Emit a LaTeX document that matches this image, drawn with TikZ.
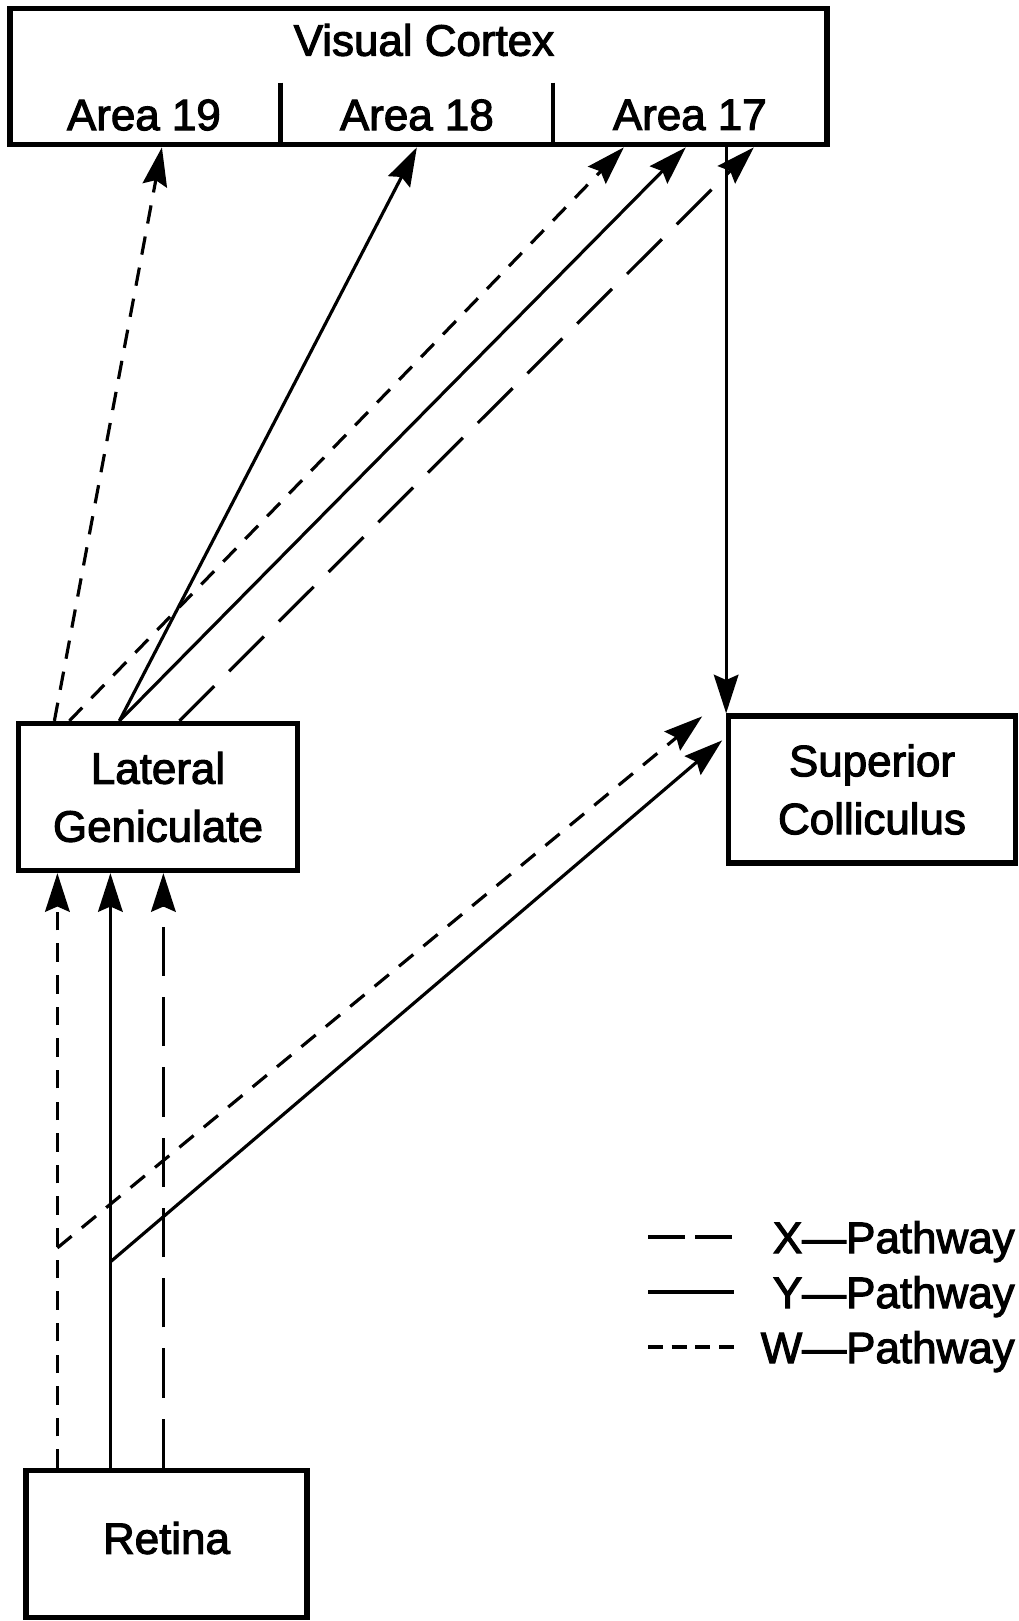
\documentclass[tikz,border=0pt]{standalone}
\usepackage{fontspec}
\setmainfont{Liberation Sans}[FakeBold=2.5]
\usetikzlibrary{positioning,arrows.meta,calc}

\begin{document}
\begin{tikzpicture}[
    x=0.02cm, y=-0.02cm,
    block/.style={
        rectangle, draw,
        minimum width=5.6cm, minimum height=2.94cm,
        align=center,
        text centered,
        line width=3pt, font=\fontsize{25}{33}\selectfont
    },
    areacell/.style={
        rectangle, inner sep=0pt,
        minimum width=5.446cm, minimum height=1.28cm,
        font=\fontsize{25}{33}\selectfont
    },
    arrow/.style={-{Stealth[length=22pt, width=14pt, inset=3pt]}, line width=1.8pt},
    xpath/.style={dash pattern=on 28pt off 12pt},
    wpath/.style={dash pattern=on 10.5pt off 7.5pt},
    legtext/.style={anchor=base east, inner sep=0pt, font=\fontsize{25}{33}\selectfont}
]
  \useasboundingbox (0,0) rectangle (1018,1621);

  % Nodes
  \node[block, minimum width=16.34cm, minimum height=2.73cm] (cortex) at (418.5,76.5) {};
  \node[font=\fontsize{25}{33}\selectfont] (title) at (424,40) {Visual Cortex};
  \node[areacell, anchor=south west] (a19) at (cortex.south west) {Area 19};
  \node[areacell, right=0pt of a19] (a18) {Area 18};
  \node[areacell, right=0pt of a18] (a17) {Area 17};
  \draw[line width=2.4pt] (a19.north east) -- (a19.south east);
  \draw[line width=2.4pt] (a18.north east) -- (a18.south east);

  \node[block, minimum width=5.58cm] (lgn) at (158,797) {Lateral\\Geniculate};
  \node[block, minimum width=5.73cm] (sc) at (872,789.5) {Superior\\Colliculus};
  \node[block, minimum width=5.62cm, text depth=7pt] (retina) at (166.5,1544) {Retina};

  % LGN to cortex
  \draw[arrow, wpath] ($(lgn.north west)+(38.5,0)$) -- ($(a19.south)+(18,0)$);
  \draw[arrow, wpath] ($(lgn.north west)+(53.5,0)$) -- ($(a17.south)+(-66,0)$);
  \draw[arrow] ($(lgn.north west)+(103.5,0)$) -- (a18.south);
  \draw[arrow] ($(lgn.north west)+(103.5,0)$) -- ($(a17.south)+(-4,0)$);
  \draw[arrow, xpath] ($(lgn.north west)+(163.5,0)$) -- ($(a17.south)+(64,0)$);

  % Area 17 to superior colliculus
  \draw[arrow] (sc.north west |- a17.south) -- (sc.north west);

  % Retina to LGN
  \coordinate (wret) at ($(retina.north west)+(34,0)$);
  \coordinate (yret) at ($(retina.north west)+(87,0)$);
  \coordinate (xret) at ($(retina.north west)+(140,0)$);
  \draw[arrow, wpath] (wret) -- (wret |- lgn.south);
  \draw[arrow] (yret) -- (yret |- lgn.south);
  \draw[arrow, xpath] (xret) -- (xret |- lgn.south);

  % Retina to superior colliculus
  \coordinate (wfork) at ($(wret)+(0,-220)$);
  \coordinate (yfork) at ($(yret)+(0,-206)$);
  \draw[arrow, wpath] (wfork) -- ($(sc.north west)+(-24,3)$);
  \draw[arrow] (yfork) -- ($(sc.north west)+(-4,27)$);

  % Legend
  \node[legtext] (xleg) at (1015,1253) {X—Pathway};
  \node[legtext] (yleg) at (1015,1308) {Y—Pathway};
  \node[legtext] (wleg) at (1015,1363) {W—Pathway};
  \draw[line width=1.8pt, dash pattern=on 21pt off 6pt] (648,0 |- xleg.base) ++(0,-16) -- ++(86,0);
  \draw[line width=1.8pt] (648,0 |- yleg.base) ++(0,-16) -- ++(86,0);
  \draw[line width=1.8pt, dash pattern=on 8.5pt off 5pt] (648,0 |- wleg.base) ++(0,-16) -- ++(86,0);

\end{tikzpicture}
\end{document}
